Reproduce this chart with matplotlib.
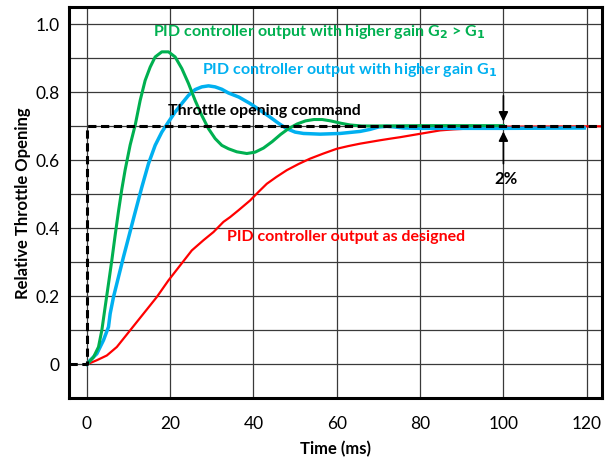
import matplotlib
matplotlib.use("Agg")
import matplotlib.pyplot as plt
from matplotlib.ticker import MultipleLocator, FuncFormatter

plt.rcParams['font.family'] = ['Lato', 'DejaVu Sans']

# throttle opening command (step at t=0)
cmd_t = [-4.2, 0, 0, 123.6]
cmd_y = [0, 0, 0.7, 0.7]

# PID output, higher gain G2 > G1
green_t = [0, 1.6, 2.8, 3.6, 4.4, 5.2, 6.0, 6.8, 7.6, 8.4, 9.2, 10.4, 11.6, 12.8, 14.0,
           15.2, 16.4, 18.0, 19.6, 21.2, 22.8, 24.4, 26.0, 27.6, 29.2, 30.8, 32.4, 34.0,
           36.0, 38.4, 40.4, 42.4, 44.5, 46.5, 48.4, 50.5, 52.5, 54.5, 56.5, 58.5, 61.0,
           63.2, 66.0, 70.0, 80.0, 100.0]
green_y = [0, 0.021, 0.051, 0.10, 0.169, 0.237, 0.306, 0.38, 0.45, 0.515, 0.572, 0.645, 0.703, 0.776, 0.835,
           0.874, 0.904, 0.919, 0.919, 0.904, 0.870, 0.826, 0.776, 0.732, 0.693, 0.664, 0.644, 0.634,
           0.625, 0.620, 0.624, 0.636, 0.655, 0.676, 0.693, 0.707, 0.716, 0.720, 0.720, 0.716, 0.709,
           0.704, 0.701, 0.701, 0.702, 0.702]

# PID output, higher gain G1
blue_t = [0, 0.8, 2.4, 4.0, 5.2, 5.6, 6.4, 7.6, 8.8, 10.0, 11.4, 13.2, 14.8, 16.4, 18.0,
          19.6, 21.2, 22.8, 24.4, 26.0, 27.6, 29.2, 30.8, 32.4, 34.0, 36.5, 39.2, 41.5, 44.0,
          46.0, 48.0, 50.0, 52.0, 56.0, 60.8, 65.6, 68.0, 70.0, 72.0, 74.0, 76.0, 80.0,
          100.0, 119.4]
blue_y = [0, 0.012, 0.031, 0.071, 0.11, 0.149, 0.198, 0.257, 0.316, 0.372, 0.438, 0.521, 0.590, 0.644, 0.683,
          0.713, 0.742, 0.767, 0.791, 0.808, 0.816, 0.819, 0.816, 0.809, 0.798, 0.786, 0.767, 0.748, 0.727,
          0.709, 0.693, 0.683, 0.679, 0.677, 0.679, 0.685, 0.691, 0.698, 0.700, 0.698, 0.695, 0.694,
          0.694, 0.695]

# PID output as designed
red_t = [0, 2.4, 4.8, 7.2, 10.4, 13.6, 16.8, 19.6, 22.4, 25.2, 28.0, 30.4, 32.8, 34.4, 36.4,
         39.2, 41.2, 43.2, 45.5, 48.0, 50.8, 53.6, 56.8, 60.0, 62.8, 65.6, 68.0, 70.4, 73.0,
         75.2, 77.6, 80.0, 82.4, 84.8, 88.0, 91.2, 95.0, 99.2, 123.6]
red_y = [0, 0.012, 0.026, 0.051, 0.10, 0.149, 0.198, 0.247, 0.291, 0.335, 0.365, 0.389, 0.419, 0.433, 0.453,
         0.482, 0.507, 0.531, 0.551, 0.571, 0.589, 0.605, 0.620, 0.634, 0.642, 0.649, 0.654, 0.659, 0.664,
         0.668, 0.673, 0.678, 0.683, 0.688, 0.691, 0.693, 0.696, 0.699, 0.70]

x_ticks = [0, 20, 40, 60, 80, 100, 120]
y_ticks = [0, 0.2, 0.4, 0.6, 0.8, 1.0]

GREEN = '#00B050'
BLUE = '#00B0F0'
RED = '#FF0000'

fig = plt.figure(figsize=(6.05, 4.57), dpi=100)
ax = fig.add_axes([0.1146, 0.1284, 0.88, 0.8556])

ax.plot(red_t, red_y, color=RED, lw=1.6, zorder=3, solid_joinstyle='round')
ax.plot(blue_t, blue_y, color=BLUE, lw=2.5, zorder=4, solid_joinstyle='round')
ax.plot(green_t, green_y, color=GREEN, lw=2.2, zorder=5, solid_joinstyle='round')
ax.plot(cmd_t, cmd_y, color='black', lw=2.2, ls=(0, (2.7, 1.5)), zorder=6)

ax.set_xlim(-4.2, 123.6)
ax.set_ylim(-0.10, 1.05)
ax.set_xticks(x_ticks)
ax.set_yticks(y_ticks)
ax.yaxis.set_minor_locator(MultipleLocator(0.1))
ax.yaxis.set_major_formatter(FuncFormatter(lambda v, p: '0' if v == 0 else '%.1f' % v))
ax.grid(True, which='both', color='#3a3a3a', lw=0.9, zorder=1)
ax.tick_params(which='both', length=0, labelsize=12.5, colors='black')
ax.tick_params(axis='x', pad=13)
ax.tick_params(axis='y', pad=7)
for s in ax.spines.values():
    s.set_linewidth(2.2)
    s.set_zorder(10)

ax.set_xlabel('Time (ms)', fontsize=12, fontweight='bold', labelpad=6)
ax.set_ylabel('Relative Throttle Opening', fontsize=12, fontweight='bold', labelpad=3)

tk = dict(fontsize=11.5, fontweight='bold', va='center', ha='left', zorder=8)
ax.text(15.8, 0.976, 'PID controller output with higher gain G$_\\mathbf{2}$ > G$_\\mathbf{1}$', color=GREEN, **tk)
ax.text(27.6, 0.865, 'PID controller output with higher gain G$_\\mathbf{1}$', color=BLUE, **tk)
ax.text(19.6, 0.744, 'Throttle opening command', color='black', **tk)
ax.text(33.6, 0.374, 'PID controller output as designed', color=RED, **tk)
ax.text(100.6, 0.544, '2%', color='black', fontsize=12, fontweight='bold', ha='center', va='center')

# 2% band markers
ax.annotate('', xy=(100, 0.706), xytext=(100, 0.798),
            arrowprops=dict(arrowstyle='-|>', color='black', lw=1.2, mutation_scale=14), zorder=9)
ax.annotate('', xy=(100, 0.693), xytext=(100, 0.582),
            arrowprops=dict(arrowstyle='-|>', color='black', lw=1.2, mutation_scale=14), zorder=9)

fig.savefig('out.png', dpi=100)
